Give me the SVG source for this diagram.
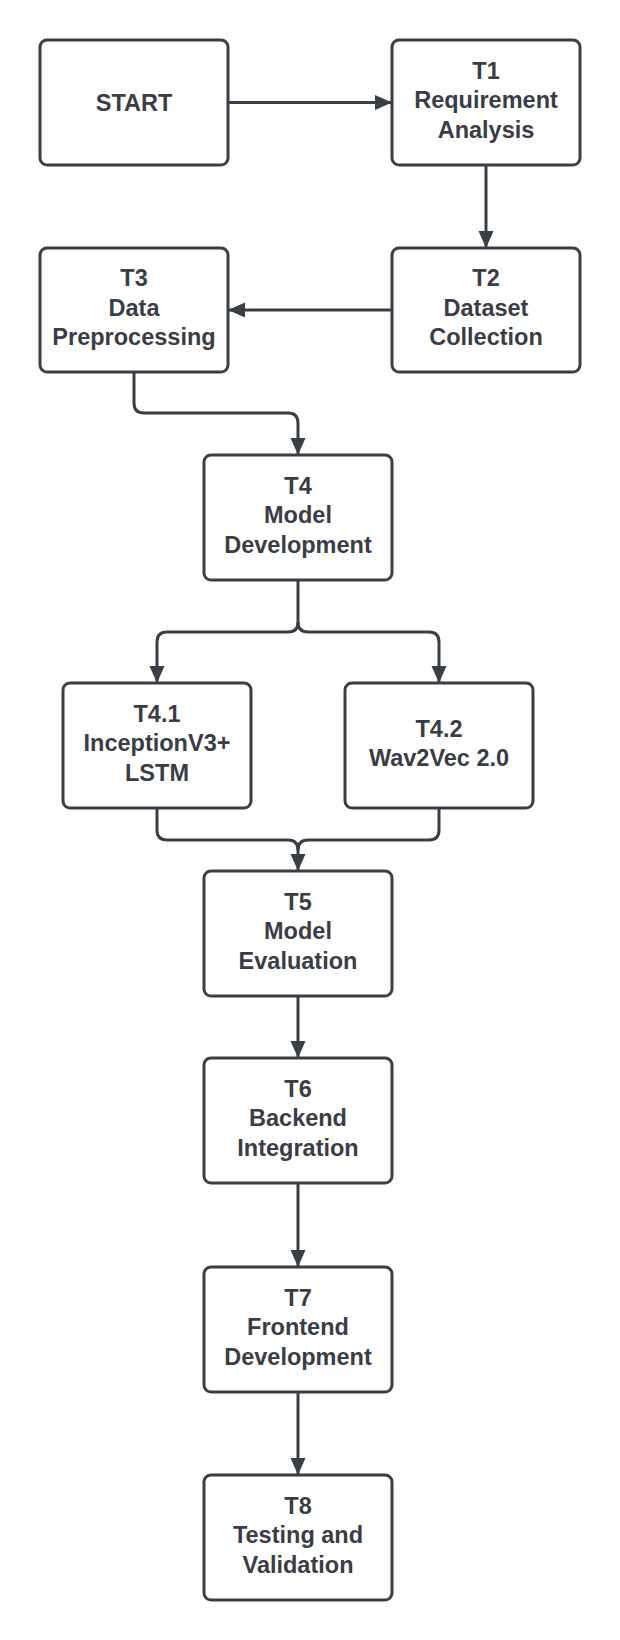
<svg xmlns="http://www.w3.org/2000/svg" width="620" height="1640" viewBox="0 0 620 1640">
<style>
.box{fill:#ffffff;stroke:#3a3e47;stroke-width:3}
.lbl{font-family:"Liberation Sans",Arial,sans-serif;font-weight:bold;font-size:23.5px;fill:#3a3d45;text-anchor:middle}
.con{fill:none;stroke:#3a3e47;stroke-width:3}
</style>
<defs>
<marker id="ah" markerUnits="userSpaceOnUse" markerWidth="18" markerHeight="16" refX="17" refY="7.5" orient="auto">
<path d="M0,0 L17,7.5 L0,15 z" fill="#3a3e47"/>
</marker>
</defs>
<rect width="620" height="1640" fill="#ffffff"/>
<g id="connectors">
<path class="con" d="M228,102.5 H392" marker-end="url(#ah)"/>
<path class="con" d="M486,165 V248" marker-end="url(#ah)"/>
<path class="con" d="M392,310 H228" marker-end="url(#ah)"/>
<path class="con" d="M134,372 V403 Q134,413 144,413 H288 Q298,413 298,423 V455" marker-end="url(#ah)"/>
<path class="con" d="M298,580 V622 Q298,632 288,632 H167 Q157,632 157,642 V683" marker-end="url(#ah)"/>
<path class="con" d="M298,622 Q298,632 308,632 H429 Q439,632 439,642 V683" marker-end="url(#ah)"/>
<path class="con" d="M157,808 V830 Q157,840 167,840 H288 Q298,840 298,850 V871" marker-end="url(#ah)"/>
<path class="con" d="M439,808 V830 Q439,840 429,840 H308 Q298,840 298,850"/>
<path class="con" d="M298,996 V1058" marker-end="url(#ah)"/>
<path class="con" d="M298,1183 V1267" marker-end="url(#ah)"/>
<path class="con" d="M298,1392 V1475" marker-end="url(#ah)"/>
</g>
<g id="start">
<rect class="box" x="40" y="40" width="188" height="125" rx="7"/>
<text class="lbl" x="134" y="111">START</text>
</g>
<g id="t1">
<rect class="box" x="392" y="40" width="188" height="125" rx="7"/>
<text class="lbl" x="486" y="78.5">T1</text>
<text class="lbl" x="486" y="108">Requirement</text>
<text class="lbl" x="486" y="137.5">Analysis</text>
</g>
<g id="t2">
<rect class="box" x="392" y="248" width="188" height="124" rx="7"/>
<text class="lbl" x="486" y="286">T2</text>
<text class="lbl" x="486" y="315.5">Dataset</text>
<text class="lbl" x="486" y="345">Collection</text>
</g>
<g id="t3">
<rect class="box" x="40" y="248" width="188" height="124" rx="7"/>
<text class="lbl" x="134" y="286">T3</text>
<text class="lbl" x="134" y="315.5">Data</text>
<text class="lbl" x="134" y="345">Preprocessing</text>
</g>
<g id="t4">
<rect class="box" x="204" y="455" width="188" height="125" rx="7"/>
<text class="lbl" x="298" y="493.5">T4</text>
<text class="lbl" x="298" y="523">Model</text>
<text class="lbl" x="298" y="552.5">Development</text>
</g>
<g id="t4-1">
<rect class="box" x="63" y="683" width="188" height="125" rx="7"/>
<text class="lbl" x="157" y="721.5">T4.1</text>
<text class="lbl" x="157" y="751">InceptionV3+</text>
<text class="lbl" x="157" y="780.5">LSTM</text>
</g>
<g id="t4-2">
<rect class="box" x="345" y="683" width="188" height="125" rx="7"/>
<text class="lbl" x="439" y="737">T4.2</text>
<text class="lbl" x="439" y="766">Wav2Vec 2.0</text>
</g>
<g id="t5">
<rect class="box" x="204" y="871" width="188" height="125" rx="7"/>
<text class="lbl" x="298" y="909.5">T5</text>
<text class="lbl" x="298" y="939">Model</text>
<text class="lbl" x="298" y="968.5">Evaluation</text>
</g>
<g id="t6">
<rect class="box" x="204" y="1058" width="188" height="125" rx="7"/>
<text class="lbl" x="298" y="1096.5">T6</text>
<text class="lbl" x="298" y="1126">Backend</text>
<text class="lbl" x="298" y="1155.5">Integration</text>
</g>
<g id="t7">
<rect class="box" x="204" y="1267" width="188" height="125" rx="7"/>
<text class="lbl" x="298" y="1305.5">T7</text>
<text class="lbl" x="298" y="1335">Frontend</text>
<text class="lbl" x="298" y="1364.5">Development</text>
</g>
<g id="t8">
<rect class="box" x="204" y="1475" width="188" height="125" rx="7"/>
<text class="lbl" x="298" y="1513.5">T8</text>
<text class="lbl" x="298" y="1543">Testing and</text>
<text class="lbl" x="298" y="1572.5">Validation</text>
</g>
</svg>
